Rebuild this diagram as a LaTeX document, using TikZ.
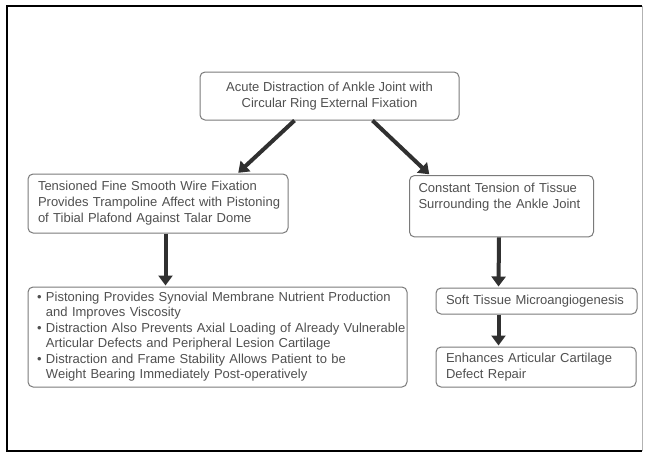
\documentclass[tikz,border=0pt]{standalone}
\usepackage{fontspec}
\setmainfont{Liberation Sans}
\usetikzlibrary{arrows.meta}
\definecolor{boxline}{HTML}{7A7A7A}
\definecolor{boxtext}{HTML}{505050}
\definecolor{arrowcol}{HTML}{303030}
\tikzset{
  box/.style={draw=boxline, line width=1pt, rounded corners=5pt, fill=white,
    text=boxtext, inner ysep=0pt, font=\fontsize{13}{16}\selectfont},
  flow/.style={draw=arrowcol, line width=4pt,
    -{Triangle[width=14pt,length=10pt]}, shorten >=1pt},
}
\begin{document}
\begin{tikzpicture}[x=1pt,y=-1pt]
\useasboundingbox (0,0) rectangle (646,453);
% outer frame
\draw[line width=1.8pt, black] (642,6) -- (7,6) -- (7,451) -- (642,451);
\draw[line width=0.8pt, black!30] (642,6) -- (642,451);

% boxes
\node[box, align=center, minimum width=259pt, minimum height=48pt]
  (top) at (329.5,96)
  {Acute Distraction of Ankle Joint with\\Circular Ring External Fixation};

\node[box, align=left, inner xsep=10pt, text width=240pt, minimum height=59pt]
  (wire) at (158,203.5)
  {\begin{tabular}{@{}l@{}}
   Tensioned Fine Smooth Wire Fixation\\
   Provides Trampoline Affect with Pistoning\\
   of Tibial Plafond Against Talar Dome
   \end{tabular}};

\node[box, align=left, inner xsep=9pt, inner ysep=8pt, text width=166pt, anchor=north west]
  (tension) at (409,175)
  {Constant Tension of Tissue\\Surrounding the Ankle Joint\rule[-20pt]{0pt}{0pt}};

\node[box, align=left, inner xsep=9pt, text width=361pt, minimum height=100pt,
      font=\fontsize{13}{15.4}\selectfont]
  (bullets) at (217.5,337)
  {\begin{tabular}{@{}p{9pt}@{}l@{}}
   \textbullet & Pistoning Provides Synovial Membrane Nutrient Production\\
               & and Improves Viscosity\\
   \textbullet & Distraction Also Prevents Axial Loading of Already Vulnerable\\
               & Articular Defects and Peripheral Lesion Cartilage\\
   \textbullet & Distraction and Frame Stability Allows Patient to be\\
               & Weight Bearing Immediately Post-operatively
   \end{tabular}};

\node[box, align=left, inner xsep=10pt, text width=181pt, minimum height=26pt]
  (micro) at (536.5,301)
  {Soft Tissue Microangiogenesis};

\node[box, align=left, inner xsep=10pt, text width=180pt, minimum height=40pt]
  (repair) at (536,367)
  {Enhances Articular Cartilage\\Defect Repair};

% connectors
\draw[flow] ([xshift=95pt]top.south west) -- ([xshift=210pt]wire.north west);
\draw[flow] ([xshift=173pt]top.south west) -- ([xshift=21pt]tension.north west);
\draw[flow] ([xshift=138pt]wire.south west) -- ([xshift=138pt]bullets.north west);
\draw[flow] ([xshift=90pt]tension.south west) -- ([xshift=63pt]micro.north west);
\draw[flow] ([xshift=63pt]micro.south west) -- ([xshift=63pt]repair.north west);
\end{tikzpicture}
\end{document}
